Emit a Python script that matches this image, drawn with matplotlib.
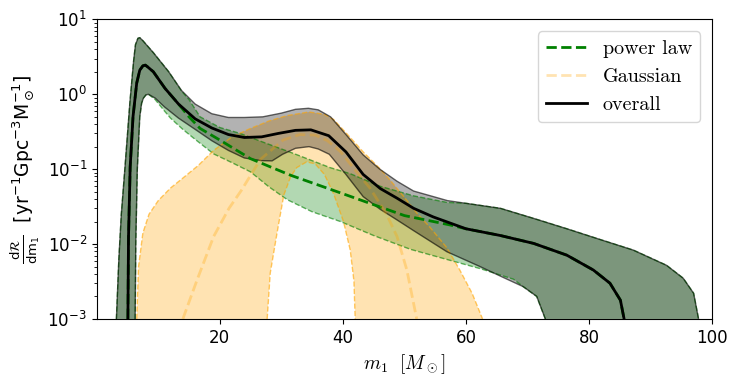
import matplotlib
matplotlib.use("Agg")
import matplotlib.pyplot as plt

# primary mass m1 [Msun] and dR/dm1 values
# overall model: 90% band and median
all_hi_m = [3.2, 3.6, 4.0, 4.6, 5.4, 6.0, 6.3, 6.7, 7.0, 7.5, 9.2, 11.7, 13.8, 16.0, 18.7, 21.4, 24.0, 27.0,
            30.0, 32.3, 34.4, 36.0, 38.0, 40.5, 43.3, 46.0, 48.8, 51.5, 54.7, 57.0, 60.0, 65.6,
            71.0, 76.4, 81.8, 87.2, 92.6, 95.3, 97.0, 97.8]
all_hi = [0.001, 0.0063, 0.025, 0.107, 0.79, 2.8, 4.6, 5.6, 5.7, 5.2, 3.6, 2.0, 1.12, 0.74, 0.55, 0.49, 0.49, 0.50,
          0.56, 0.63, 0.65, 0.62, 0.50, 0.29, 0.155, 0.10, 0.069, 0.051, 0.043, 0.038, 0.035, 0.030,
          0.022, 0.016, 0.0115, 0.0083, 0.0052, 0.0035, 0.0022, 0.001]

all_med_m = [5.07, 5.17, 5.44, 5.9, 6.5, 7.0, 7.5, 7.9, 8.2, 9.2, 11.1, 13.3, 16.0, 18.7, 21.4, 24.0, 26.8, 29.5,
             32.3, 34.8, 37.7, 40.5, 43.3, 46.1, 48.8, 51.5, 54.7, 60.0, 65.6, 71.0, 76.4, 80.7,
             83.4, 85.1, 85.7]
all_med = [0.001, 0.0126, 0.107, 0.50, 1.41, 2.1, 2.4, 2.45, 2.35, 2.0, 1.2, 0.74, 0.47, 0.355, 0.29, 0.265, 0.27, 0.30,
           0.33, 0.335, 0.28, 0.170, 0.085, 0.055, 0.041, 0.030, 0.023, 0.016, 0.0130, 0.0102, 0.0071, 0.0045,
           0.003, 0.00178, 0.001]

all_lo_m = [6.25, 6.35, 6.6, 7.0, 7.3, 7.6, 8.0, 8.4, 9.5, 11.0, 13.3, 16.0, 18.7, 21.4, 24.0, 26.8, 28.5, 30.2,
            32.3, 34.5, 36.0, 37.8, 40.5, 43.3, 46.1, 48.8, 51.5, 56.9, 62.3, 66.0, 69.3, 71.5, 72.9]
all_lo = [0.001, 0.01, 0.1, 0.5, 0.76, 0.89, 0.98, 1.0, 0.89, 0.68, 0.48, 0.34, 0.24, 0.178, 0.141, 0.13, 0.129, 0.158,
          0.19, 0.20, 0.186, 0.158, 0.085, 0.043, 0.029, 0.021, 0.0151, 0.0079, 0.005, 0.0036, 0.0027, 0.002, 0.001]

# power law component
pl_hi_m = [3.2, 3.6, 4.0, 4.6, 5.4, 6.0, 6.3, 6.7, 7.0, 7.5, 9.2, 11.7, 13.8, 15.0, 16.8, 20.0, 23.3, 27.0, 32.0,
           37.9, 41.2, 46.1, 51.5, 56.9, 60.0, 65.6, 71.0, 76.4, 81.8, 87.2, 92.6, 95.3, 97.0, 97.8]
pl_hi = [0.001, 0.0063, 0.025, 0.107, 0.79, 2.8, 4.6, 5.6, 5.7, 5.2, 3.6, 2.0, 1.1, 0.85, 0.50, 0.36, 0.30, 0.23, 0.162,
         0.105, 0.087, 0.059, 0.044, 0.036, 0.035, 0.030, 0.022, 0.016, 0.0115, 0.0083, 0.0052, 0.0035, 0.0022, 0.001]

pl_med_m = [5.07, 5.17, 5.44, 5.9, 6.5, 7.0, 7.5, 7.9, 8.2, 9.2, 11.1, 13.3, 15.0, 16.8, 20.0, 25.0, 31.5, 40.0,
            50.0, 57.4, 60.0, 65.6, 71.0, 76.4, 80.7, 83.4, 85.1, 85.7]
pl_med = [0.001, 0.0126, 0.107, 0.50, 1.41, 2.1, 2.4, 2.45, 2.35, 2.0, 1.2, 0.74, 0.50, 0.35, 0.245, 0.138, 0.083, 0.047,
          0.024, 0.018, 0.016, 0.0130, 0.0102, 0.0071, 0.0045, 0.003, 0.00178, 0.001]

pl_lo_m = [6.25, 6.35, 6.6, 7.0, 7.3, 7.6, 8.0, 8.4, 9.5, 11.0, 12.0, 14.0, 16.0, 19.0, 22.0, 25.0, 28.0, 31.0,
           35.0, 39.6, 45.0, 51.0, 57.0, 62.3, 67.7, 69.3, 71.5, 72.9]
pl_lo = [0.001, 0.01, 0.1, 0.5, 0.76, 0.89, 0.98, 1.0, 0.85, 0.60, 0.48, 0.34, 0.25, 0.16, 0.122, 0.092, 0.058, 0.039,
         0.027, 0.020, 0.0130, 0.0085, 0.0062, 0.0047, 0.0034, 0.0027, 0.002, 0.001]

# Gaussian component
g_hi_m = [6.5, 6.8, 7.5, 8.5, 10.0, 12.0, 14.0, 16.5, 19.0, 22.0, 25.0, 28.0, 31.0, 34.5, 37.0, 38.5,
          40.6, 43.3, 46.0, 47.7, 50.0, 52.0, 54.2, 56.9, 59.0, 61.0, 62.7]
g_hi = [0.001, 0.005, 0.014, 0.025, 0.038, 0.056, 0.076, 0.112, 0.178, 0.27, 0.35, 0.44, 0.52, 0.58, 0.54, 0.46,
        0.30, 0.17, 0.102, 0.071, 0.042, 0.026, 0.0166, 0.0089, 0.0045, 0.0022, 0.001]

g_med_m = [14.0, 16.3, 19.0, 21.5, 23.5, 26.6, 30.3, 33.0, 35.5, 37.5, 39.6, 42.0, 44.4, 47.1, 48.8, 50.4, 52.0]
g_med = [0.001, 0.0033, 0.0126, 0.030, 0.052, 0.135, 0.245, 0.29, 0.285, 0.24, 0.172, 0.097, 0.056, 0.025,
         0.0126, 0.0045, 0.001]

g_lo_m = [27.7, 28.2, 29.3, 30.4, 31.5, 32.5, 34.1, 35.5, 37.0, 38.5, 40.1, 41.2, 41.8, 42.0]
g_lo = [0.001, 0.0041, 0.014, 0.045, 0.079, 0.105, 0.125, 0.118, 0.085, 0.047, 0.020, 0.0083, 0.0032, 0.001]

fig = plt.figure(figsize=(7.41, 3.88), dpi=100)
ax = fig.add_axes([0.1305, 0.178, 0.8305, 0.772])

# bands (green, then orange, then grey so the overlaps mix like the original)
ax.fill(pl_hi_m + pl_lo_m[::-1], pl_hi + pl_lo[::-1], color="green", alpha=0.3, lw=0)
ax.fill(g_hi_m + g_lo_m[::-1], g_hi + g_lo[::-1], color="orange", alpha=0.3, lw=0)
ax.fill(all_hi_m + all_lo_m[::-1], all_hi + all_lo[::-1], color="k", alpha=0.3, lw=0)

# band edges
ax.plot(pl_hi_m, pl_hi, "--", color="green", lw=1, alpha=0.6)
ax.plot(pl_lo_m, pl_lo, "--", color="green", lw=1, alpha=0.6)
ax.plot(g_hi_m, g_hi, "--", color="orange", lw=1, alpha=0.6)
ax.plot(g_lo_m, g_lo, "--", color="orange", lw=1, alpha=0.6)
ax.plot(all_hi_m, all_hi, "-", color="k", lw=1, alpha=0.6)
ax.plot(all_lo_m, all_lo, "-", color="k", lw=1, alpha=0.6)

# medians
ax.plot(pl_med_m, pl_med, "--", color="green", lw=2, label="power law")
ax.plot(g_med_m, g_med, "--", color="orange", lw=2, alpha=0.3, label="Gaussian")
ax.plot(all_med_m, all_med, "-", color="k", lw=2, label="overall")

ax.set_yscale("log")
ax.set_xlim(0, 100)
ax.set_ylim(1e-3, 10)
ax.set_xticks([20, 40, 60, 80, 100])
ax.tick_params(labelsize=12)
ax.set_xlabel(r"$m_1\ \ [M_\odot]$", fontsize=14, math_fontfamily="cm")
ax.set_ylabel(r"$\frac{\mathrm{d}\mathcal{R}}{\mathrm{dm}_1}$  [yr$^{-1}$Gpc$^{-3}$M$_\odot^{-1}$]", fontsize=13.5)
ax.legend(loc="upper right", prop={"family": ["cmr10", "DejaVu Serif"], "size": 14.5},
          borderaxespad=0.6)

fig.savefig("out.png", dpi=100)
